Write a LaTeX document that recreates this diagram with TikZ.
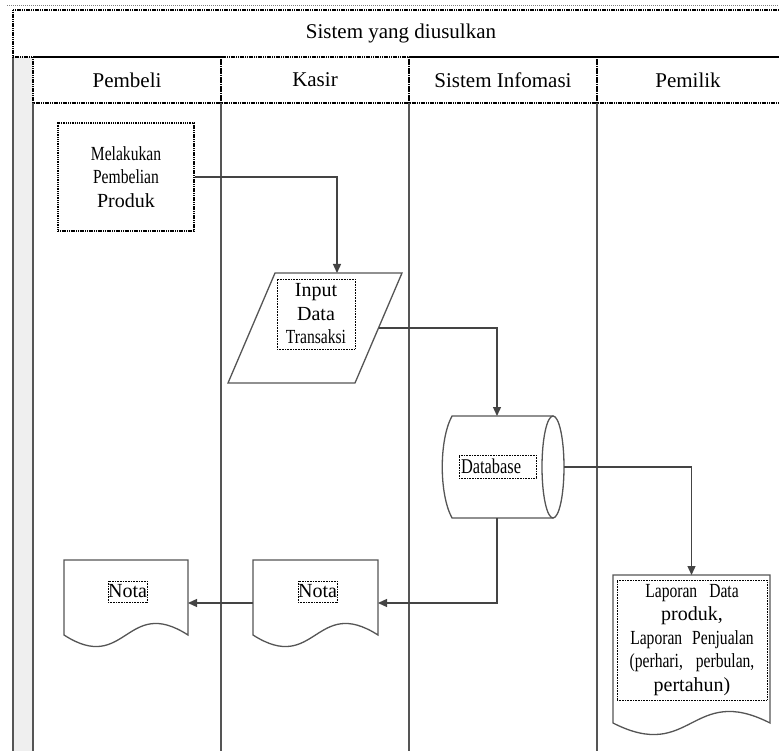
\documentclass[tikz,border=0pt]{standalone}
\usepackage{fontspec}
\setmainfont{Liberation Serif}
\newfontfamily\cond[FakeStretch=0.78]{Liberation Serif}
\usetikzlibrary{arrows.meta,calc}
\definecolor{ln}{HTML}{444444}
\definecolor{shpc}{HTML}{555555}
\definecolor{strip}{HTML}{EFEFEF}
\newcommand\docshape[4]{%
  \draw[shp,fill=white] (#1,#3) -- (#2,#3) -- (#2,#4)
    .. controls ({(#1+#2)/2},{#4-40}) and ({(#1+#2)/2},{#4+40}) .. (#1,#4) -- cycle;}
\begin{document}
\begin{tikzpicture}[x=1pt,y=-1pt,
  hdr/.style={draw=black,line width=1.8pt,dash pattern=on 1.2pt off 0.6pt},
  lane/.style={draw=shpc,line width=1.3pt},
  conn/.style={draw=ln,line width=1.3pt,-{Triangle[length=9pt,width=8pt]}},
  shp/.style={draw=shpc,line width=1.3pt},
  dotbox/.style={draw=black,line width=0.9pt,dash pattern=on 0.9pt off 0.7pt,inner sep=0pt},
  txt/.style={font=\fontsize{20}{23.5}\selectfont,align=center},
  htxt/.style={font=\fontsize{21}{24}\selectfont},
  ghost/.style={inner sep=0pt,outer sep=0pt}
]
\useasboundingbox (0,0) rectangle (779,751);
\clip (0,0) rectangle (779,751);
% frame
\draw[gray,line width=1pt,dash pattern=on 1pt off 1pt] (7,6) -- (790,6);
\fill[strip] (13,57) rectangle (33,760);
\draw[lane] (13,57) -- (13,760);
\draw[hdr] (13,10) rectangle (800,57);
\node[htxt] (title) at (401,33) {Sistem yang diusulkan};
\draw[hdr] (33,57) rectangle (221,103);
\draw[hdr] (221,57) rectangle (409,103);
\draw[hdr] (409,57) rectangle (597,103);
\draw[hdr] (597,57) rectangle (800,103);
\node[htxt] (hpb) at (127,80) {Pembeli};
\node[htxt] (hks) at (315,80) {Kasir};
\node[htxt] (hsi) at (503,80) {Sistem Infomasi};
\node[htxt] (hpm) at (688,80) {Pemilik};
\foreach \xx in {33,221,409,597} \draw[lane] (\xx,103) -- (\xx,760);
% Melakukan Pembelian
\node[draw=black,line width=1.6pt,dash pattern=on 1.1pt off 0.7pt,minimum width=136pt,minimum height=108pt,txt] (beli) at (126,177)
  {{\cond Melakukan}\\{\cond Pembelian}\\Produk};
% Input parallelogram
\node[ghost,minimum width=174pt,minimum height=110pt] (inp) at (315,328) {};
\draw[shp,fill=white] (275,273) -- (402,273) -- (355,383) -- (228,383) -- cycle;
\node[dotbox,minimum width=78pt,minimum height=70pt,txt] (inptxt) at (316,314) {Input\\Data\\{\cond Transaksi}};
% Database
\node[ghost,minimum width=122pt,minimum height=102pt] (db) at (503,467) {};
\draw[shp,fill=white] (452,416) -- (553,416) -- (553,518) -- (452,518) .. controls (439,494) and (439,440) .. (452,416) -- cycle;
\draw[shp,fill=white] (553,467) ellipse [x radius=11, y radius=51];
\node[dotbox,inner sep=2pt,minimum width=77pt,minimum height=23pt,text width=73pt,align=left,font=\fontsize{21}{23.5}\selectfont] (dbtxt) at (497.5,466.5) {\cond Database};
% Nota documents
\node[ghost,minimum width=124pt,minimum height=86pt] (notap) at (126,603) {};
\docshape{64}{188}{560}{635}
\node[ghost,minimum width=125pt,minimum height=86pt] (notak) at (315.5,603) {};
\docshape{253}{378}{560}{635}
\node[dotbox,minimum width=39pt,minimum height=21pt,font=\fontsize{20}{23.5}\selectfont] (ntp) at (127.5,591.5) {Nota};
\node[dotbox,minimum width=39pt,minimum height=21pt,font=\fontsize{20}{23.5}\selectfont] (ntk) at (317.5,591.5) {Nota};
% Laporan
\node[ghost,minimum width=157pt,minimum height=160pt] (lap) at (691.5,655) {};
\docshape{613}{770}{575}{723}
\node[dotbox,minimum width=150pt,minimum height=120pt,txt] (laptxt) at (692,640)
  {{\cond Laporan\hspace{12pt}Data}\\produk,\\{\cond Laporan\hspace{10pt}Penjualan}\\{\cond (perhari,\hspace{13pt}perbulan,}\\pertahun)};
% connectors
\draw[conn] (beli.east) -| ([xshift=22pt]inp.north);
\draw[conn] ([xshift=-23.5pt]inp.east) -| ([xshift=-6pt]db.north);
\draw[conn] (db.east) -| (lap.north);
\draw[conn] ([xshift=-6pt]db.south) |- (notak.east);
\draw[conn] (notak.west) -- (notap.east);
\end{tikzpicture}
\end{document}
